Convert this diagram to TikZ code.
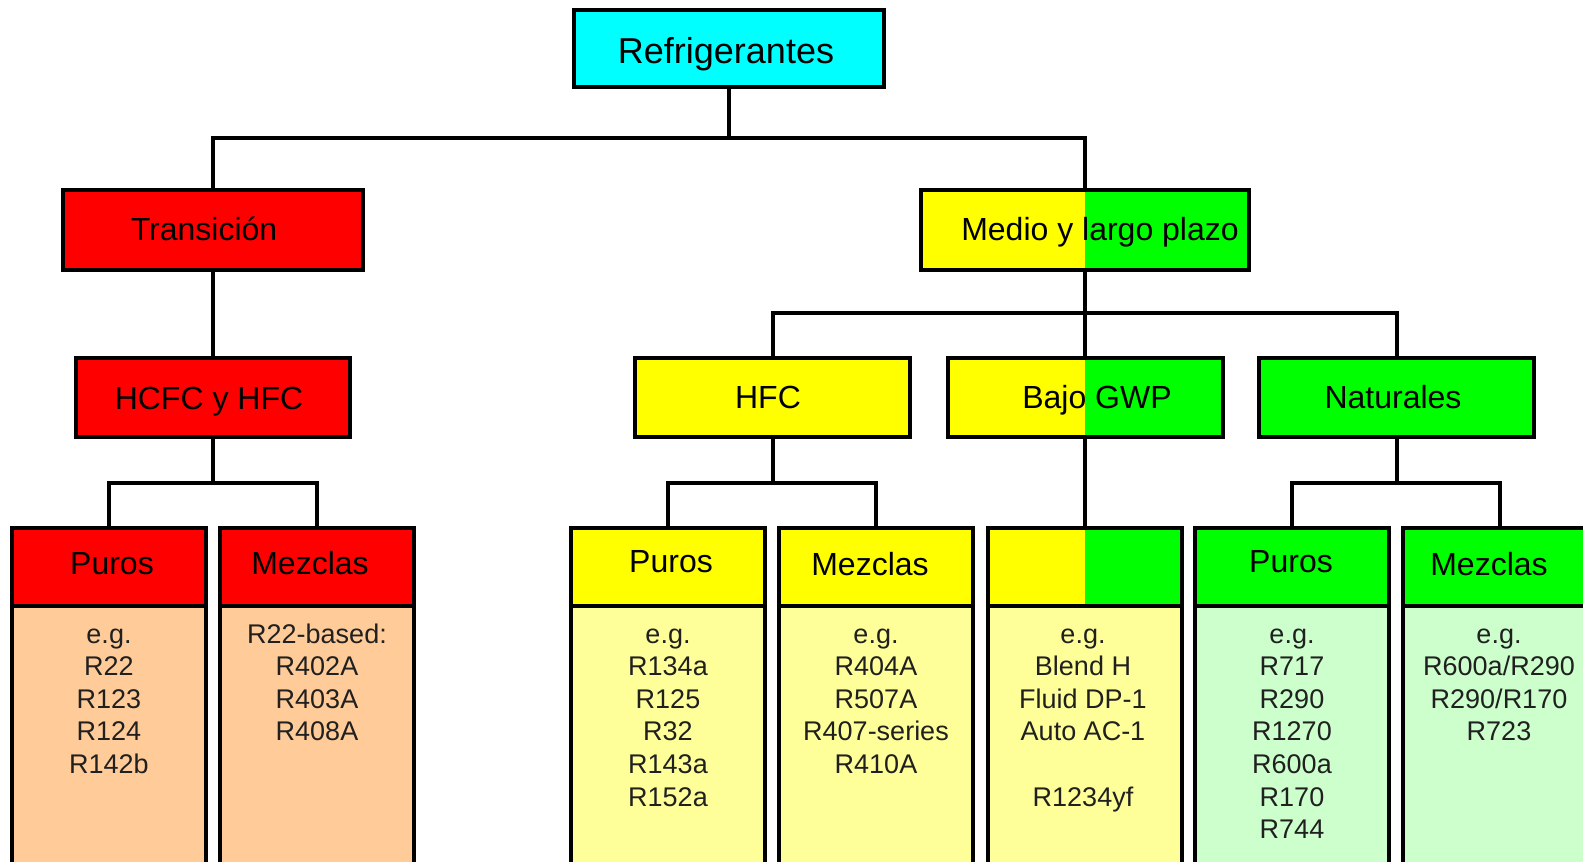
\documentclass[tikz,border=0pt]{standalone}
\usepackage{fontspec}
\setmainfont{Liberation Sans}
\definecolor{cyanC}{HTML}{00FFFF}
\definecolor{redC}{HTML}{FF0000}
\definecolor{yelC}{HTML}{FFFF00}
\definecolor{grnC}{HTML}{00FF00}
\definecolor{peachC}{HTML}{FFCC99}
\definecolor{lyelC}{HTML}{FFFF99}
\definecolor{lgrnC}{HTML}{CCFFCC}
\definecolor{bodyC}{HTML}{202020}
\begin{document}
\begin{tikzpicture}[x=1pt,y=-1pt,
  box/.style={draw=black, line width=4pt, inner sep=0pt, outer sep=0pt, rectangle},
  splitbox/.style={box, fill=yelC, path picture={\fill[grnC] (path picture bounding box.north) rectangle (path picture bounding box.south east);}},
  head/.style={anchor=base, inner sep=0pt, font=\fontsize{32}{38}\selectfont},
  body/.style={anchor=base, inner sep=0pt, text=bodyC, font=\fontsize{27}{32}\selectfont},
  conn/.style={draw=black, line width=4pt}]
\useasboundingbox (0,0) rectangle (1583,862);
\clip (0,0) rectangle (1583,862);
% top level boxes
\node[box, fill=cyanC, minimum width=310pt, minimum height=77pt] (root) at (729,48.5) {};
\node[box, fill=redC, minimum width=300pt, minimum height=80pt] (trans) at (213,230) {};
\node[splitbox, minimum width=328pt, minimum height=80pt] (medio) at (1085,230) {};
\node[box, fill=redC, minimum width=274pt, minimum height=79pt] (hcfc) at (213,397.5) {};
\node[box, fill=yelC, minimum width=275pt, minimum height=79pt] (hfc) at (772.5,397.5) {};
\node[splitbox, minimum width=275pt, minimum height=79pt] (bajo) at (1085,397.5) {};
\node[box, fill=grnC, minimum width=275pt, minimum height=79pt] (nat) at (1396.5,397.5) {};
% bottom header boxes
\node[box, fill=redC, minimum width=194pt, minimum height=78pt] (lph) at (109,567) {};
\node[box, fill=redC, minimum width=194pt, minimum height=78pt] (lmh) at (317,567) {};
\node[box, fill=yelC, minimum width=194pt, minimum height=78pt] (yph) at (668,567) {};
\node[box, fill=yelC, minimum width=194pt, minimum height=78pt] (ymh) at (876,567) {};
\node[splitbox, minimum width=194pt, minimum height=78pt] (bjh) at (1085,567) {};
\node[box, fill=grnC, minimum width=194pt, minimum height=78pt] (gph) at (1292,567) {};
\node[box, fill=grnC, minimum width=194pt, minimum height=78pt] (gmh) at (1500,567) {};
% bottom body boxes
\node[box, fill=peachC, minimum width=194pt, minimum height=294pt, anchor=north] (lpb) at (lph.south) {};
\node[box, fill=peachC, minimum width=194pt, minimum height=294pt, anchor=north] (lmb) at (lmh.south) {};
\node[box, fill=lyelC, minimum width=194pt, minimum height=294pt, anchor=north] (ypb) at (yph.south) {};
\node[box, fill=lyelC, minimum width=194pt, minimum height=294pt, anchor=north] (ymb) at (ymh.south) {};
\node[box, fill=lyelC, minimum width=194pt, minimum height=294pt, anchor=north] (bjb) at (bjh.south) {};
\node[box, fill=lgrnC, minimum width=194pt, minimum height=294pt, anchor=north] (gpb) at (gph.south) {};
\node[box, fill=lgrnC, minimum width=194pt, minimum height=294pt, anchor=north] (gmb) at (gmh.south) {};
% connectors
\draw[conn] (root.south) -- ++(0,51) -| (trans.north);
\draw[conn] (root.south) ++(0,51) -| (medio.north);
\draw[conn] (trans.south) -- (hcfc.north);
\draw[conn] (medio.south) -- ++(0,43) -| (hfc.north);
\draw[conn] (medio.south) ++(0,43) -| (nat.north);
\draw[conn] (medio.south) -- (bajo.north);
\draw[conn] (hcfc.south) -- ++(0,46) -| (lph.north);
\draw[conn] (hcfc.south) ++(0,46) -| (lmh.north);
\draw[conn] (hfc.south) -- ++(0,46) -| (yph.north);
\draw[conn] (hfc.south) ++(0,46) -| (ymh.north);
\draw[conn] (bajo.south) -- (bjh.north);
\draw[conn] (nat.south) -- ++(0,46) -| (gph.north);
\draw[conn] (nat.south) ++(0,46) -| (gmh.north);
% heading texts
\node[head, font=\fontsize{36}{42}\selectfont] (troot) at (726,63) {Refrigerantes};
\node[head] (ttrans) at (204,240) {Transición};
\node[head] (tmedio) at (1100,240) {Medio y largo plazo};
\node[head] (thcfc) at (209,409) {HCFC y HFC};
\node[head] (thfc) at (768,408) {HFC};
\node[head] (tbajo) at (1097,408) {Bajo GWP};
\node[head] (tnat) at (1393,408) {Naturales};
\node[head] (tlp) at (112,574) {Puros};
\node[head] (tlm) at (310,574) {Mezclas};
\node[head] (typ) at (671,572) {Puros};
\node[head] (tym) at (870,575) {Mezclas};
\node[head] (tgp) at (1291,572) {Puros};
\node[head] (tgm) at (1489,575) {Mezclas};
% body texts
\foreach \t [count=\i] in {e.g.,R22,R123,R124,R142b}
  \node[body] (lp\i) at (109,{643+32.6*(\i-1)}) {\t};
\foreach \t [count=\i] in {R22-based:,R402A,R403A,R408A}
  \node[body] (lm\i) at (317,{643+32.6*(\i-1)}) {\t};
\foreach \t [count=\i] in {e.g.,R134a,R125,R32,R143a,R152a}
  \node[body] (yp\i) at (668,{643+32.6*(\i-1)}) {\t};
\foreach \t [count=\i] in {e.g.,R404A,R507A,R407-series,R410A}
  \node[body] (ym\i) at (876,{643+32.6*(\i-1)}) {\t};
\foreach \i/\t in {1/e.g.,2/Blend H,3/Fluid DP-1,4/Auto AC-1,6/R1234yf}
  \node[body] (bj\i) at (1083,{643+32.6*(\i-1)}) {\t};
\foreach \t [count=\i] in {e.g.,R717,R290,R1270,R600a,R170,R744}
  \node[body] (gp\i) at (1292,{643+32.6*(\i-1)}) {\t};
\foreach \t [count=\i] in {e.g.,R600a/R290,R290/R170,R723}
  \node[body] (gm\i) at (1499,{643+32.6*(\i-1)}) {\t};
\end{tikzpicture}
\end{document}
